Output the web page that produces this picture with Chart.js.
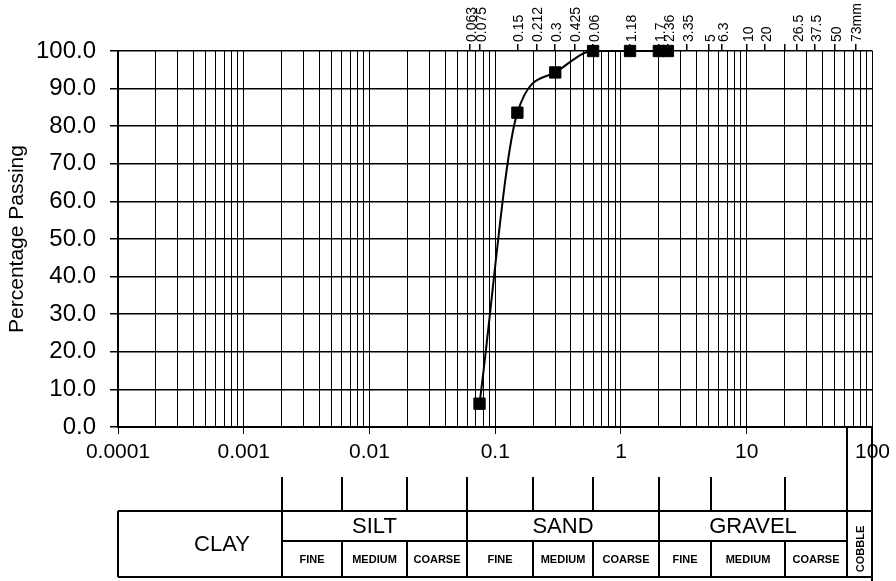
<!DOCTYPE html>
<html>
<head>
<meta charset="utf-8">
<script src="https://cdn.jsdelivr.net/npm/chart.js@4.4.1/dist/chart.umd.min.js"></script>
<style>
  html, body { margin: 0; padding: 0; background: #fff; }
  #wrap { width: 896px; height: 581px; }
</style>
</head>
<body>
<div id="wrap"><canvas id="psdChart" width="896" height="581"></canvas></div>
<script>
// Sieve results: particle size (mm) vs percentage passing
const sieveSizes = [0.075, 0.15, 0.3, 0.6, 1.18, 2.0, 2.36]
const percentPassing = [6.2, 83.6, 94.3, 100, 100, 100, 100]

// Bottom axis decade labels
const xMajorValues = [0.0001, 0.001, 0.01, 0.1, 1, 10, 100]
const xMajorLabels = ["0.0001", "0.001", "0.01", "0.1", "1", "10", "100"]

// Sieve marks along the top edge (labels as printed)
const topTickValues = [0.063, 0.075, 0.15, 0.212, 0.3, 0.425, 0.6, 1.18, 2.0, 2.36, 3.35, 5, 6.3, 10, 14, 20, 25, 35, 50, 73]
const topTickLabels = ["0.063", "0.075", "0.15", "0.212", "0.3", "0.425", "0.06", "1.18", "1.7", "2.36", "3.35", "5", "6.3", "10", "20", "", "26.5", "37.5", "50", "73mm"]

// Soil classification table
const soilClasses = ["CLAY", "SILT", "SAND", "GRAVEL", "COBBLE"]
const classBounds = [0.0001, 0.002, 0.06, 2, 63, 100]
const subClasses = ["FINE", "MEDIUM", "COARSE"]
const siltBounds = [0.002, 0.006, 0.02, 0.06]
const sandBounds = [0.06, 0.2, 0.6, 2]
const gravelBounds = [2, 5.2, 20, 63]

const FONT = "'Liberation Sans', Arial, sans-serif"
Chart.defaults.font.family = FONT
Chart.defaults.color = "#000"

// log grid: 1..9 in every decade
function logGridTicks() {
  const ticks = []
  for (let e = -4; e < 2; e++) {
    for (let m = 1; m < 10; m++) {
      ticks.push({ value: m * Math.pow(10, e), major: m === 1 })
    }
  }
  ticks.push({ value: 100, major: true })
  return ticks
}

function isDecade(v) {
  const l = Math.log10(v)
  return Math.abs(l - Math.round(l)) < 1e-6
}

// Draw the classification table under the axis
const soilTablePlugin = {
  id: "soilTable",
  afterDraw(chart) {
    const ctx = chart.ctx
    const xs = chart.scales.x
    const px = (v) => Math.round(xs.getPixelForValue(v))
    const axisY = chart.chartArea.bottom
    const stubTop = 477
    const top = 511
    const mid = 541
    const bottom = 577

    ctx.save()
    ctx.strokeStyle = "#000"
    ctx.lineWidth = 2

    // short marks above the table
    const stubs = [siltBounds, sandBounds, gravelBounds].flatMap((b) => b.slice(0, 3))
    stubs.forEach((v) => {
      ctx.beginPath()
      ctx.moveTo(px(v), stubTop)
      ctx.lineTo(px(v), top)
      ctx.stroke()
    })

    // cobble boundaries run from the axis
    ;[classBounds[4], classBounds[5]].forEach((v, i) => {
      ctx.beginPath()
      ctx.moveTo(px(v), axisY)
      ctx.lineTo(px(v), i === 1 ? 581 : bottom)
      ctx.stroke()
    })

    // outer frame
    const left = px(classBounds[0])
    const right = px(classBounds[5])
    ctx.beginPath()
    ctx.moveTo(left, top)
    ctx.lineTo(right, top)
    ctx.moveTo(left, bottom)
    ctx.lineTo(right, bottom)
    ctx.moveTo(left, top)
    ctx.lineTo(left, bottom)
    ctx.stroke()

    // main class dividers
    classBounds.slice(1, 4).forEach((v) => {
      ctx.beginPath()
      ctx.moveTo(px(v), top)
      ctx.lineTo(px(v), bottom)
      ctx.stroke()
    })

    // sub row line
    ctx.beginPath()
    ctx.moveTo(px(classBounds[1]), mid)
    ctx.lineTo(px(classBounds[4]), mid)
    ctx.stroke()

    // sub dividers
    ;[siltBounds, sandBounds, gravelBounds].forEach((b) => {
      ;[b[1], b[2]].forEach((v) => {
        ctx.beginPath()
        ctx.moveTo(px(v), mid)
        ctx.lineTo(px(v), bottom)
        ctx.stroke()
      })
    })

    // labels
    ctx.fillStyle = "#000"
    ctx.textAlign = "center"
    ctx.textBaseline = "middle"
    ctx.font = "22px " + FONT
    ctx.fillText(soilClasses[0], (left + px(classBounds[1])) / 2 + 22, (top + bottom) / 2 + 1)
    for (let i = 1; i < 4; i++) {
      ctx.fillText(soilClasses[i], (px(classBounds[i]) + px(classBounds[i + 1])) / 2, (top + mid) / 2 + 1)
    }

    ctx.font = "bold 11px " + FONT
    ;[siltBounds, sandBounds, gravelBounds].forEach((b) => {
      for (let j = 0; j < 3; j++) {
        ctx.fillText(subClasses[j], (px(b[j]) + px(b[j + 1])) / 2, (mid + bottom) / 2 + 1)
      }
    })

    // cobble, rotated
    ctx.save()
    ctx.translate((px(classBounds[4]) + px(classBounds[5])) / 2 + 1, (top + bottom) / 2 + 5)
    ctx.rotate(-Math.PI / 2)
    ctx.font = "bold 11px " + FONT
    ctx.fillText(soilClasses[4], 0, 0)
    ctx.restore()

    ctx.restore()
  },
}

const ctx = document.getElementById("psdChart")

new Chart(ctx, {
  type: "line",
  data: {
    datasets: [
      {
        data: sieveSizes.map((s, i) => ({ x: s, y: percentPassing[i] })),
        borderColor: "#000",
        borderWidth: 2,
        pointStyle: "rect",
        pointRadius: 8,
        pointBackgroundColor: "#000",
        pointBorderColor: "#000",
        pointBorderWidth: 1,
        cubicInterpolationMode: "monotone",
        clip: false,
        xAxisID: "x",
        yAxisID: "y",
      },
    ],
  },
  options: {
    responsive: false,
    animation: false,
    layout: { padding: { left: 0, right: 19, top: 0, bottom: 0 } },
    plugins: {
      legend: { display: false },
      tooltip: { enabled: false },
    },
    scales: {
      x: {
        type: "logarithmic",
        position: "bottom",
        min: 0.0001,
        max: 100,
        afterBuildTicks: (scale) => {
          scale.ticks = logGridTicks()
        },
        afterFit: (scale) => {
          scale.height = 154
        },
        grid: {
          color: "#000",
          lineWidth: 1,
          tickLength: 7,
          tickColor: (c) => (c.tick && isDecade(c.tick.value) ? "#000" : "rgba(0,0,0,0)"),
        },
        border: { color: "#000", width: 2 },
        ticks: {
          autoSkip: false,
          maxRotation: 0,
          minRotation: 0,
          padding: 6,
          font: { size: 21 },
          callback: (value) => {
            const i = xMajorValues.findIndex((m) => Math.abs(m - value) / m < 1e-6)
            return i >= 0 ? xMajorLabels[i] : ""
          },
        },
      },
      xTop: {
        type: "logarithmic",
        position: "top",
        min: 0.0001,
        max: 100,
        afterBuildTicks: (scale) => {
          scale.ticks = topTickValues.map((v) => ({ value: v }))
        },
        afterFit: (scale) => {
          scale.height = 51
        },
        grid: {
          drawOnChartArea: false,
          color: "#000",
          tickLength: 7,
          tickColor: "#000",
          lineWidth: 1.5,
        },
        border: { display: false },
        ticks: {
          autoSkip: false,
          maxRotation: 90,
          minRotation: 90,
          padding: 2,
          labelOffset: 19,
          font: { size: 14 },
          callback: (value, index) => topTickLabels[index],
        },
      },
      y: {
        min: 0,
        max: 100,
        afterFit: (scale) => {
          scale.width = 118
        },
        grid: {
          color: "#000",
          lineWidth: 1.5,
          tickLength: 8,
        },
        border: { color: "#000", width: 2 },
        ticks: {
          stepSize: 10,
          padding: 14,
          font: { size: 24 },
          callback: (value) => Number(value).toFixed(1),
        },
        title: {
          display: true,
          text: "Percentage Passing",
          font: { size: 21 },
          padding: { top: 5, bottom: 0 },
        },
      },
    },
  },
  plugins: [soilTablePlugin],
})
</script>
</body>
</html>
